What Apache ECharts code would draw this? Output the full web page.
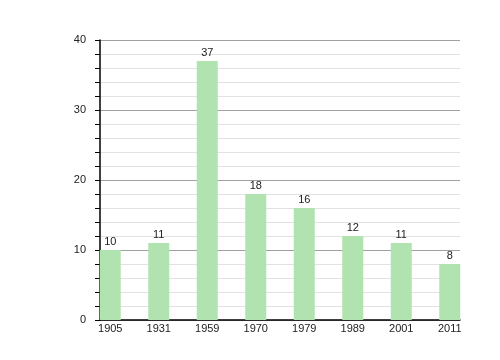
<!DOCTYPE html>
<html><head><meta charset="utf-8">
<script src="https://cdn.jsdelivr.net/npm/echarts@6/dist/echarts.min.js"></script>
<style>html,body{margin:0;padding:0;background:#fff}#c{width:500px;height:360px}</style>
</head><body><div id="c"></div>
<script>
var categories = ['1905','1931','1959','1970','1979','1989','2001','2011'];
var values = [10, 11, 37, 18, 16, 12, 11, 8];
var yTicks = [0, 10, 20, 30, 40];

var chart = echarts.init(document.getElementById('c'), null, {renderer:'canvas'});
var font = 'Liberation Sans, Arial, sans-serif';
chart.setOption({
  animation:false,
  backgroundColor:'#fff',
  grid:[
    {left:100, right:40, top:40, bottom:40},
    {left:86, right:26, top:40, bottom:40}
  ],
  xAxis:[
    {gridIndex:0, type:'value', min:0, max:1, axisLabel:{show:false}, axisTick:{show:false}, splitLine:{show:false},
     axisLine:{show:true, onZero:false, lineStyle:{color:'#000', width:1.5}}},
    {gridIndex:1, type:'category', data:categories, axisLine:{show:false}, axisTick:{show:false},
     axisLabel:{color:'#222', fontSize:11, fontFamily:font, margin:3}}
  ],
  yAxis:[
    {gridIndex:0, type:'value', min:yTicks[0], max:yTicks[yTicks.length-1], interval:10,
     axisLine:{show:true, lineStyle:{color:'#000', width:1.5}},
     axisTick:{show:true, length:5, lineStyle:{color:'#000'}},
     minorTick:{show:true, splitNumber:5, length:5, lineStyle:{color:'#000'}},
     splitLine:{show:true, lineStyle:{color:'#a0a0a0', width:1}},
     minorSplitLine:{show:true, lineStyle:{color:'#e2e2e2', width:1}},
     axisLabel:{color:'#222', fontSize:11, fontFamily:font, margin:14}},
    {gridIndex:1, type:'value', min:0, max:40, show:false}
  ],
  series:[{
    type:'bar', xAxisIndex:1, yAxisIndex:1, data:values, barWidth:21,
    itemStyle:{color:'#b0e3b0'},
    label:{show:true, position:'top', distance:3, color:'#222', fontSize:11, fontFamily:font}
  }]
});
</script></body></html>
